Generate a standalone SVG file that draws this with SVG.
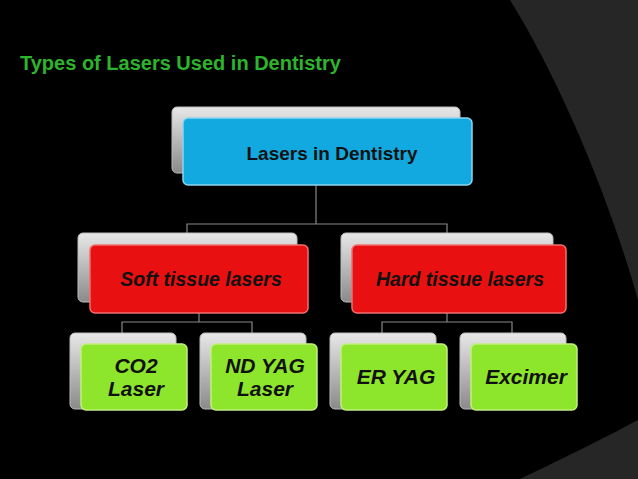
<svg xmlns="http://www.w3.org/2000/svg" width="638" height="479" viewBox="0 0 638 479">
<defs>
<linearGradient id="gr" x1="0" y1="0" x2="0" y2="1"><stop offset="0" stop-color="#e8e8e8"/><stop offset="1" stop-color="#8a8a8a"/></linearGradient>
<style>
.back{fill:url(#gr);stroke:#bbb;stroke-width:1}
.blue{fill:#12a9e0;stroke:#8fd3ee;stroke-width:1.5}
.red{fill:#e81010;stroke:#f07070;stroke-width:1.5}
.green{fill:#8ee62c;stroke:#c2f080;stroke-width:1.5}
.t{font-family:"Liberation Sans",Arial,sans-serif;font-weight:bold;fill:#111;text-anchor:middle}
.i{font-style:italic}
.c{stroke:#888;stroke-width:1.2;fill:none}
</style>
</defs>
<rect width="638" height="479" fill="#000"/>
<path d="M510 0 C560 80 610 200 638 300 V0 Z" fill="#262626"/>
<path d="M520 479 C570 455 610 435 638 420 V479 Z" fill="#262626"/>
<text x="20" y="70" font-family="Liberation Sans,Arial,sans-serif" font-weight="bold" font-size="20" fill="#2cb52c">Types of Lasers Used in Dentistry</text>
<g id="connectors">
<path class="c" d="M316 185V224M187 233V224H447V233M199 313V322H122V333M199 322H252V333M447 313V322H382V333M447 322H512V333"/>
</g>
<g id="root"><rect class="back" x="172" y="107" width="288" height="66" rx="5"/><rect class="blue" x="183" y="118" width="289" height="67" rx="5"/><text class="t" x="332" y="160" font-size="19">Lasers in Dentistry</text></g>
<g id="soft"><rect class="back" x="78" y="233" width="219" height="69" rx="5"/><rect class="red" x="90" y="245" width="218" height="68" rx="5"/><text class="t i" x="201" y="286" font-size="19.5">Soft tissue lasers</text></g>
<g id="hard"><rect class="back" x="341" y="233" width="212" height="69" rx="5"/><rect class="red" x="352" y="245" width="214" height="68" rx="5"/><text class="t i" x="460" y="286" font-size="19.5">Hard tissue lasers</text></g>
<g id="co2"><rect class="back" x="70" y="333" width="106" height="76" rx="5"/><rect class="green" x="81" y="344" width="106" height="66" rx="5"/><text class="t i" x="136" y="373" font-size="21">CO2</text><text class="t i" x="136" y="396" font-size="21">Laser</text></g>
<g id="ndyag"><rect class="back" x="200" y="333" width="106" height="76" rx="5"/><rect class="green" x="211" y="344" width="106" height="66" rx="5"/><text class="t i" x="265" y="373" font-size="21">ND YAG</text><text class="t i" x="265" y="396" font-size="21">Laser</text></g>
<g id="eryag"><rect class="back" x="330" y="333" width="106" height="76" rx="5"/><rect class="green" x="341" y="344" width="106" height="66" rx="5"/><text class="t i" x="396" y="384" font-size="21">ER YAG</text></g>
<g id="excimer"><rect class="back" x="460" y="333" width="106" height="76" rx="5"/><rect class="green" x="471" y="344" width="106" height="66" rx="5"/><text class="t i" x="526" y="384" font-size="21">Excimer</text></g>
</svg>
